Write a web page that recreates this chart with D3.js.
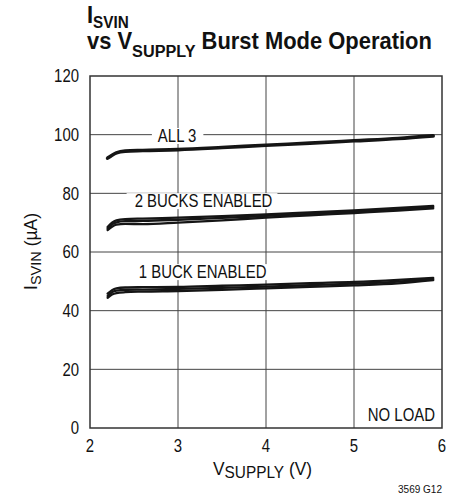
<!DOCTYPE html>
<html>
<head>
<meta charset="utf-8" />
<script src="https://cdn.jsdelivr.net/npm/d3@7"></script>
<style>
  body { margin: 0; background: #fff; }
  text { font-family: "Liberation Sans", Arial, sans-serif; fill: #111; }
</style>
</head>
<body>
<div id="chart"></div>
<script>
  // 資料：V_SUPPLY 取樣點與各條曲線 (µA)
  const vSupply = [2.2, 2.25, 2.3, 2.4, 2.6, 3, 3.5, 4, 4.5, 5, 5.5, 5.9];
  const all3 = [92.0, 93.0, 93.8, 94.4, 94.6, 94.9, 95.6, 96.4, 97.1, 97.9, 98.7, 99.6];
  const twoBucksA = [68.5, 70.0, 70.8, 71.2, 71.4, 71.7, 72.2, 72.8, 73.5, 74.2, 75.0, 75.7];
  const twoBucksB = [67.5, 68.6, 69.3, 69.6, 69.5, 70.0, 70.8, 71.7, 72.5, 73.3, 74.1, 74.9];
  const twoBucksC = [68.0, 69.4, 70.1, 70.5, 70.6, 71.0, 71.6, 72.3, 73.0, 73.8, 74.6, 75.3];
  const oneBuckA = [45.8, 47.0, 47.6, 47.9, 48.0, 48.1, 48.5, 48.9, 49.4, 49.8, 50.5, 51.2];
  const oneBuckB = [44.4, 45.5, 46.0, 46.3, 46.5, 46.7, 47.1, 47.6, 48.1, 48.6, 49.3, 50.4];
  const oneBuckC = [45.0, 46.3, 46.8, 47.1, 47.2, 47.4, 47.8, 48.2, 48.7, 49.2, 49.9, 50.8];
  const xTicks = [2, 3, 4, 5, 6];
  const yTicks = [0, 20, 40, 60, 80, 100, 120];
  const curveLabels = ["ALL 3", "2 BUCKS ENABLED", "1 BUCK ENABLED"];

  const width = 461, height = 495;
  const marginLeft = 90, marginRight = 19, marginTop = 76, marginBottom = 67;
  const K = 0.83; // 模擬窄體字的水平壓縮比例

  const x = d3.scaleLinear().domain([2, 6]).range([marginLeft, width - marginRight]);
  const y = d3.scaleLinear().domain([0, 120]).range([height - marginBottom, marginTop]);

  const svg = d3.select("#chart").append("svg")
      .attr("width", width).attr("height", height)
      .attr("viewBox", [0, 0, width, height]);

  // 以錨點為中心水平壓縮文字
  function condense(sel, k) {
    sel.attr("transform", function () {
      const ax = +this.getAttribute("x");
      return `translate(${ax * (1 - k)},0) scale(${k},1)`;
    });
  }

  // 格線
  svg.append("g")
      .attr("stroke", "#444").attr("stroke-width", 1)
      .call(g => g.selectAll(".v").data(xTicks.slice(1, -1)).join("line")
          .attr("x1", d => x(d)).attr("x2", d => x(d))
          .attr("y1", y(0)).attr("y2", y(120)))
      .call(g => g.selectAll(".h").data(yTicks.slice(1, -1)).join("line")
          .attr("x1", x(2)).attr("x2", x(6))
          .attr("y1", d => y(d)).attr("y2", d => y(d)));

  // 曲線標籤（白底遮住格線）
  const labelPos = [
    { x: 2.99, y: 97.5, padL: 6, padR: 7 },
    { x: 3.29, y: 75.3, padL: 8, padR: 5 },
    { x: 3.28, y: 51.1, padL: 3, padR: 3 }
  ];
  const lab = svg.append("g");
  curveLabels.forEach((s, i) => {
    const p = labelPos[i];
    const t = lab.append("text")
        .attr("x", x(p.x)).attr("y", y(p.y))
        .attr("text-anchor", "middle").attr("font-size", 18)
        .text(s);
    const b = t.node().getBBox();
    const w = b.width * K;
    t.call(condense, K);
    lab.insert("rect", "text")
        .attr("x", x(p.x) - w / 2 - p.padL).attr("y", b.y + 2)
        .attr("width", w + p.padL + p.padR).attr("height", b.height - 4)
        .attr("fill", "#fff");
  });

  // NO LOAD
  svg.append("text").attr("x", x(6) - 7).attr("y", y(2.4))
      .attr("text-anchor", "end").attr("font-size", 18).text("NO LOAD")
      .call(condense, K);

  // 外框
  svg.append("rect")
      .attr("x", x(2)).attr("y", y(120))
      .attr("width", x(6) - x(2)).attr("height", y(0) - y(120))
      .attr("fill", "none").attr("stroke", "#333").attr("stroke-width", 1.5);

  // 曲線
  const line = d3.line().x((d, i) => x(vSupply[i])).y(d => y(d)).curve(d3.curveMonotoneX);
  svg.append("g")
      .attr("fill", "none").attr("stroke", "#151515")
      .attr("stroke-linecap", "round").attr("stroke-linejoin", "round")
      .selectAll("path")
      .data([all3, twoBucksA, twoBucksB, twoBucksC, oneBuckA, oneBuckB, oneBuckC])
      .join("path")
      .attr("stroke-width", (d, i) => i === 0 ? 3.6 : 2.3)
      .attr("d", d => line(d));

  // 座標軸刻度標籤
  svg.append("g").attr("font-size", 18).attr("text-anchor", "end")
      .selectAll("text").data(yTicks).join("text")
      .attr("x", marginLeft - 11).attr("y", d => y(d)).attr("dy", "0.36em")
      .text(d => d)
      .call(condense, K);
  svg.append("g").attr("font-size", 18).attr("text-anchor", "middle")
      .selectAll("text").data(xTicks).join("text")
      .attr("x", d => x(d)).attr("y", y(0) + 24)
      .text(d => d)
      .call(condense, K);

  // X 軸標題
  const xl = svg.append("text").attr("x", 262.5).attr("y", 475)
      .attr("text-anchor", "middle").attr("font-size", 18);
  xl.append("tspan").text("V");
  xl.append("tspan").attr("font-size", 16).attr("dy", 3).text("SUPPLY");
  xl.append("tspan").attr("dy", -3).text(" (V)");
  xl.call(condense, 99 / xl.node().getBBox().width);

  // Y 軸標題
  const yl = svg.append("g").attr("transform", "translate(37,251.5) rotate(-90)")
      .append("text").attr("x", 0).attr("y", 0)
      .attr("text-anchor", "middle").attr("font-size", 18);
  yl.append("tspan").text("I");
  yl.append("tspan").attr("font-size", 15).attr("dy", 4).text("SVIN");
  yl.append("tspan").attr("dy", -4).text(" (µA)");
  yl.call(condense, 77 / yl.node().getBBox().width);

  // 標題（兩行，依參考寬度壓縮）
  const title = svg.append("g").attr("font-weight", "bold");
  const t1 = title.append("text").attr("x", 87).attr("y", 23).attr("font-size", 23);
  t1.append("tspan").text("I");
  t1.append("tspan").attr("font-size", 16).attr("dy", 5).text("SVIN");
  const t2 = title.append("text").attr("x", 87).attr("y", 49.5).attr("font-size", 23);
  t2.append("tspan").text("vs V");
  t2.append("tspan").attr("font-size", 17).attr("dy", 7.5).text("SUPPLY");
  t2.append("tspan").attr("dy", -7.5).text(" Burst Mode Operation");
  const kt = 345 / t2.node().getBBox().width;
  t1.call(condense, kt);
  t2.call(condense, kt);

  // 圖號
  svg.append("text").attr("x", 442).attr("y", 493)
      .attr("text-anchor", "end").attr("font-size", 10).text("3569 G12");
</script>
</body>
</html>
